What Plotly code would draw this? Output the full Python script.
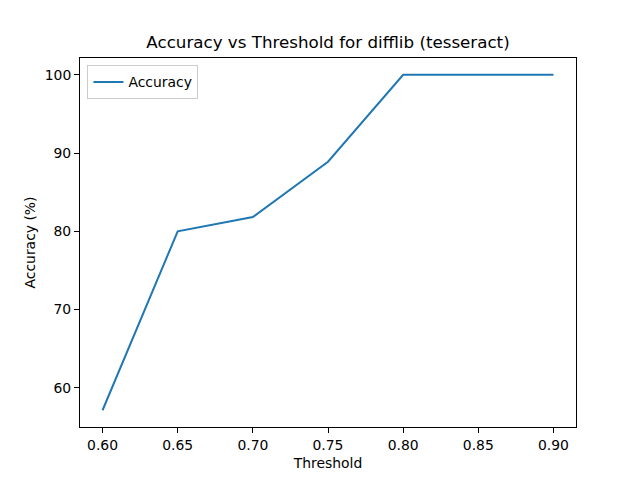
import plotly.graph_objects as go

thresholds = [0.60, 0.65, 0.70, 0.75, 0.80, 0.85, 0.90]
accuracy = [57.14, 80.0, 81.82, 88.89, 100.0, 100.0, 100.0]
x_ticks = [0.60, 0.65, 0.70, 0.75, 0.80, 0.85, 0.90]
x_tick_labels = ["0.60", "0.65", "0.70", "0.75", "0.80", "0.85", "0.90"]
y_ticks = [60, 70, 80, 90, 100]

fig = go.Figure(go.Scatter(
    x=thresholds, y=accuracy, mode="lines", name="Accuracy",
    line=dict(color="#1f77b4", width=2),
))

axis_style = dict(
    showgrid=False, zeroline=False, showline=True, linecolor="black", linewidth=1,
    mirror=True, ticks="outside", ticklen=5, tickcolor="black",
    tickfont=dict(size=13.9, color="black"),
)

# page body has an 8px margin, so the margins are shifted to compensate
fig.update_layout(
    width=640, height=480,
    margin=dict(l=72, r=72, t=50, b=61),
    paper_bgcolor="white", plot_bgcolor="white",
    font=dict(family="DejaVu Sans", color="black"),
    title=dict(text="Accuracy vs Threshold for difflib (tesseract)", x=(328 - 8) / 640,
               xanchor="center", y=1 - 34 / 480, yanchor="middle", font=dict(size=16.7)),
    xaxis=dict(axis_style, range=[0.585, 0.915], tickvals=x_ticks, ticktext=x_tick_labels,
               title=dict(text="Threshold", font=dict(size=13.9), standoff=6)),
    yaxis=dict(axis_style, range=[55.0, 102.14], tickvals=y_ticks,
               title=dict(text="Accuracy (%)", font=dict(size=13.9), standoff=5)),
    showlegend=True,
    legend=dict(x=0.015, y=0.98, xanchor="left", yanchor="top", bgcolor="white",
                bordercolor="#cccccc", borderwidth=1, font=dict(size=13.9)),
)

fig.write_html("out.html")
